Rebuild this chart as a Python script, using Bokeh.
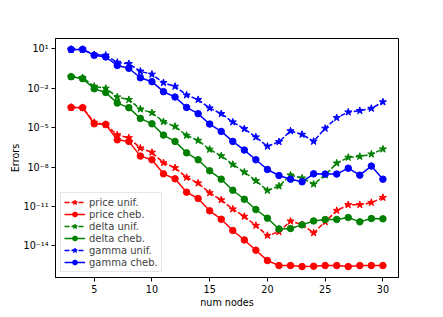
from bokeh.plotting import figure
from bokeh.models import FixedTicker, Range1d
from bokeh.embed import file_html
from bokeh.resources import INLINE

num_nodes = list(range(3, 31))

# errors, as log10 exponents
price_unif_log10 = [-3.45, -3.47, -4.60, -4.75, -5.54, -5.77, -6.55, -6.88, -7.67, -8.05,
                    -8.79, -9.22, -9.96, -10.50, -11.20, -11.76, -12.45, -13.21, -12.93, -12.12,
                    -12.38, -13.01, -12.17, -11.31, -10.87, -10.87, -10.70, -10.32]
price_cheb_log10 = [-3.45, -3.47, -4.70, -4.75, -5.92, -6.04, -7.16, -7.44, -8.51, -8.89,
                    -9.91, -10.39, -11.33, -11.97, -12.83, -13.55, -14.33, -15.12, -15.50, -15.50,
                    -15.58, -15.55, -15.50, -15.50, -15.58, -15.50, -15.50, -15.50]
delta_unif_log10 = [-1.11, -1.19, -1.85, -2.00, -2.66, -2.86, -3.58, -3.86, -4.54, -4.90,
                    -5.59, -5.97, -6.65, -7.14, -7.80, -8.38, -9.04, -9.78, -9.45, -8.61,
                    -8.84, -9.30, -8.61, -7.70, -7.26, -7.19, -7.01, -6.63]
delta_cheb_log10 = [-1.11, -1.26, -2.03, -2.31, -3.12, -3.47, -4.29, -4.70, -5.56, -6.04,
                    -6.91, -7.44, -8.28, -8.92, -9.76, -10.45, -11.23, -11.89, -12.71, -12.68,
                    -12.40, -12.10, -11.99, -11.99, -11.84, -12.17, -11.92, -11.94]
gamma_unif_log10 = [0.97, 0.97, 0.57, 0.52, -0.02, -0.12, -0.70, -0.93, -1.57, -1.85,
                    -2.51, -2.86, -3.50, -3.93, -4.57, -5.08, -5.71, -6.42, -6.07, -5.25,
                    -5.51, -6.04, -5.05, -4.24, -3.81, -3.70, -3.53, -3.04]
gamma_cheb_log10 = [0.97, 0.97, 0.52, 0.39, -0.25, -0.47, -1.19, -1.49, -2.25, -2.66,
                    -3.45, -3.93, -4.72, -5.28, -6.04, -6.70, -7.44, -8.18, -8.64, -8.92,
                    -9.12, -8.51, -8.53, -8.53, -8.08, -8.61, -7.92, -8.92]

y_ticks = [1e1, 1e-2, 1e-5, 1e-8, 1e-11, 1e-14]
y_tick_labels = ["10¹", "10⁻²", "10⁻⁵", "10⁻⁸", "10⁻¹¹", "10⁻¹⁴"]
x_ticks = [5, 10, 15, 20, 25, 30]

series = [
    ("price unif.", price_unif_log10, "red", "dashed"),
    ("price cheb.", price_cheb_log10, "red", "solid"),
    ("delta unif.", delta_unif_log10, "green", "dashed"),
    ("delta cheb.", delta_cheb_log10, "green", "solid"),
    ("gamma unif.", gamma_unif_log10, "blue", "dashed"),
    ("gamma cheb.", gamma_cheb_log10, "blue", "solid"),
]

FONT = "DejaVu Sans"
FS = "9.6px"

p = figure(width=440, height=314, y_axis_type="log",
           x_range=Range1d(1.65, 31.35), y_range=Range1d(10 ** -16.41, 10 ** 1.80),
           output_backend="svg", toolbar_location=None,
           min_border_left=55, min_border_right=42, min_border_top=38, min_border_bottom=37)

for label, vals, color, style in series:
    ys = [10 ** v for v in vals]
    if style == "dashed":
        p.line(num_nodes, ys, line_color=color, line_width=1.5, line_dash="5 2", legend_label=label)
        p.scatter(num_nodes, ys, marker="star", size=7.5, fill_color=color, line_color=color,
                  legend_label=label)
    else:
        p.line(num_nodes, ys, line_color=color, line_width=1.5, legend_label=label)
        p.scatter(num_nodes, ys, marker="circle", size=6.5, fill_color=color, line_color=color,
                  legend_label=label)

p.xgrid.visible = False
p.ygrid.visible = False
p.outline_line_color = "black"
p.outline_line_alpha = 1.0
p.outline_line_width = 1

p.xaxis.ticker = FixedTicker(ticks=x_ticks)
p.yaxis.ticker = FixedTicker(ticks=y_ticks)
p.yaxis.major_label_overrides = {t: l for t, l in zip(y_ticks, y_tick_labels)}

for ax in (p.xaxis, p.yaxis):
    ax.major_tick_in = 0
    ax.major_tick_out = 4
    ax.minor_tick_line_color = None
    ax.axis_line_color = "black"
    ax.major_tick_line_color = "black"
    ax.major_label_text_font = FONT
    ax.major_label_text_font_size = FS
    ax.major_label_text_color = "black"
    ax.axis_label_text_font = FONT
    ax.axis_label_text_font_size = FS
    ax.axis_label_text_font_style = "normal"
    ax.axis_label_text_color = "black"
    ax.major_label_standoff = 3

p.xaxis.axis_label = "num nodes"
p.yaxis.axis_label = "Errors"
p.xaxis.axis_label_standoff = 1
p.yaxis.axis_label_standoff = 0

lg = p.legend[0]
lg.location = "bottom_left"
lg.margin = 5
lg.padding = 3
lg.spacing = 0
lg.glyph_width = 21
lg.glyph_height = 12
lg.label_height = 12
lg.label_standoff = 4
lg.label_text_font = FONT
lg.label_text_font_size = "10px"
lg.border_line_color = "#cccccc"
lg.border_line_width = 1
lg.background_fill_alpha = 0.8

open("out.html", "w").write(file_html(p, INLINE))
